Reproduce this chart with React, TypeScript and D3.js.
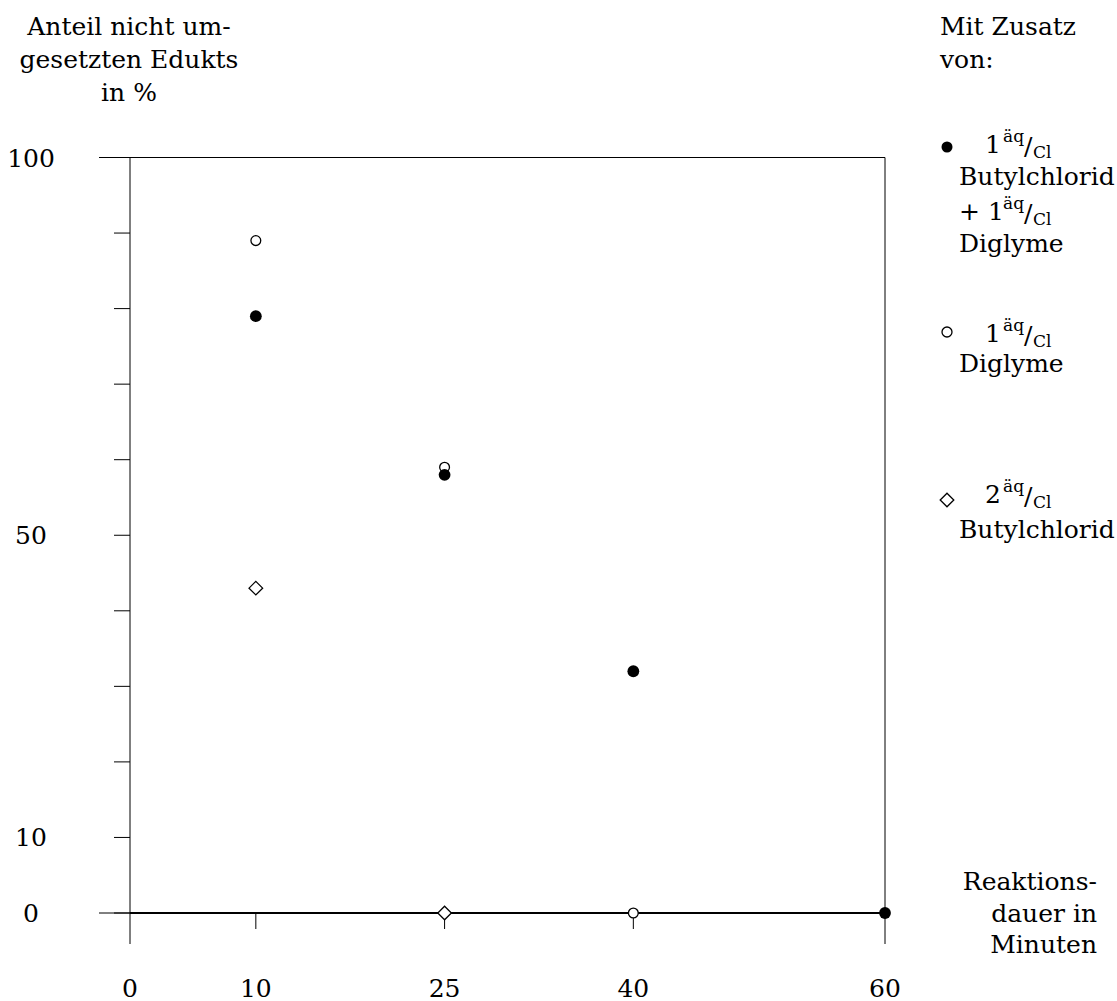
import React from "react";
import * as d3 from "d3";

const W = 1117;
const H = 1001;

// Data
const filledX = [10, 25, 40, 60];
const filledY = [79, 58, 32, 0];
const openX = [10, 25, 40];
const openY = [89, 59, 0];
const diamondX = [10, 25];
const diamondY = [43, 0];

const yTickValues = [0, 10, 20, 30, 40, 50, 60, 70, 80, 90, 100];
const yTickLabels = [0, 10, 50, 100];
const xTickMarks = [10, 25, 40];
const xTickLabels = [0, 10, 25, 40, 60];

const yTitle = ["Anteil nicht um-", "gesetzten Edukts", "in %"];
const xTitle = ["Reaktions-", "dauer in", "Minuten"];
const legendHead = ["Mit Zusatz", "von:"];

const FONT = "DejaVu Serif, serif";
const FS = 25;
const SFS = 17;

export default function App() {
  const x = d3.scaleLinear().domain([0, 60]).range([130, 885]);
  const y = d3.scaleLinear().domain([0, 100]).range([913, 157.5]);

  const diamond = (cx: number, cy: number, r: number) =>
    `M${cx},${cy - r}L${cx + r},${cy}L${cx},${cy + r}L${cx - r},${cy}Z`;

  const fracParts = (bx: number, by: number, key: string) => (
    <g key={key}>
      <text x={bx} y={by - 11} fontSize={SFS}>äq</text>
      <text x={bx + 21} y={by + 2} fontSize={FS}>/</text>
      <text x={bx + 30} y={by + 5} fontSize={SFS}>Cl</text>
    </g>
  );

  const frac = (num: string, bx: number, by: number, key: string) => (
    <g key={key}>
      <text x={bx} y={by} fontSize={FS}>{num}</text>
      {fracParts(bx + 18, by, key + "p")}
    </g>
  );

  return (
    <svg
      width={W}
      height={H}
      style={{ position: "absolute", left: 0, top: 0, background: "#fff" }}
      fontFamily={FONT}
      fill="#000"
    >
      <rect x={0} y={0} width={W} height={H} fill="#fff" />

      {/* y title */}
      {yTitle.map((t, i) => (
        <text key={t} x={129} y={35 + i * 33} fontSize={FS} textAnchor="middle">
          {t}
        </text>
      ))}

      {/* frame */}
      <line x1={99} x2={x(60)} y1={y(100)} y2={y(100)} stroke="#000" strokeWidth={1} />
      <line x1={x(0)} x2={x(0)} y1={y(100)} y2={944} stroke="#000" strokeWidth={1} />
      <line x1={x(60)} x2={x(60)} y1={y(100)} y2={944} stroke="#000" strokeWidth={1} />
      <line x1={99} x2={x(0)} y1={y(0)} y2={y(0)} stroke="#000" strokeWidth={1} />
      <line x1={x(0)} x2={x(60)} y1={y(0)} y2={y(0)} stroke="#000" strokeWidth={2} />

      {/* y ticks */}
      {yTickValues.map((v) => (
        <line key={v} x1={114} x2={x(0)} y1={y(v)} y2={y(v)} stroke="#000" strokeWidth={1} />
      ))}
      {yTickLabels.map((v) => (
        <text key={v} x={31} y={y(v) + 9} fontSize={FS} textAnchor="middle">
          {v}
        </text>
      ))}

      {/* x ticks */}
      {xTickMarks.map((v) => (
        <line key={v} x1={x(v)} x2={x(v)} y1={y(0)} y2={929} stroke="#000" strokeWidth={1} />
      ))}
      {xTickLabels.map((v) => (
        <text key={v} x={x(v)} y={997} fontSize={FS} textAnchor="middle">
          {v}
        </text>
      ))}

      {/* x title */}
      {xTitle.map((t, i) => (
        <text key={t} x={1097} y={890 + i * 31.5} fontSize={FS} textAnchor="end">
          {t}
        </text>
      ))}

      {/* data */}
      {openX.map((v, i) => (
        <circle key={"o" + i} cx={x(v)} cy={y(openY[i])} r={4.9} fill="#fff" stroke="#000" strokeWidth={1.3} />
      ))}
      {filledX.map((v, i) => (
        <circle key={"f" + i} cx={x(v)} cy={y(filledY[i])} r={5.9} fill="#000" />
      ))}
      {diamondX.map((v, i) => (
        <path key={"d" + i} d={diamond(x(v), y(diamondY[i]), 6.8)} fill="#fff" stroke="#000" strokeWidth={1.3} />
      ))}

      {/* legend */}
      {legendHead.map((t, i) => (
        <text key={t} x={940} y={35 + i * 33} fontSize={FS}>
          {t}
        </text>
      ))}
      <circle cx={947} cy={147} r={5.5} fill="#000" />
      {frac("1", 985, 153, "f1")}
      <text x={959} y={185} fontSize={FS}>Butylchlorid</text>
      <text x={959} y={220} fontSize={FS}>+ 1</text>
      {fracParts(1003, 220, "f1b")}
      <text x={959} y={252} fontSize={FS}>Diglyme</text>

      <circle cx={947} cy={332} r={5} fill="#fff" stroke="#000" strokeWidth={1.3} />
      {frac("1", 985, 342, "f2")}
      <text x={959} y={372} fontSize={FS}>Diglyme</text>

      <path d={diamond(947, 500, 6.8)} fill="#fff" stroke="#000" strokeWidth={1.3} />
      {frac("2", 985, 503, "f3")}
      <text x={959} y={538} fontSize={FS}>Butylchlorid</text>
    </svg>
  );
}
